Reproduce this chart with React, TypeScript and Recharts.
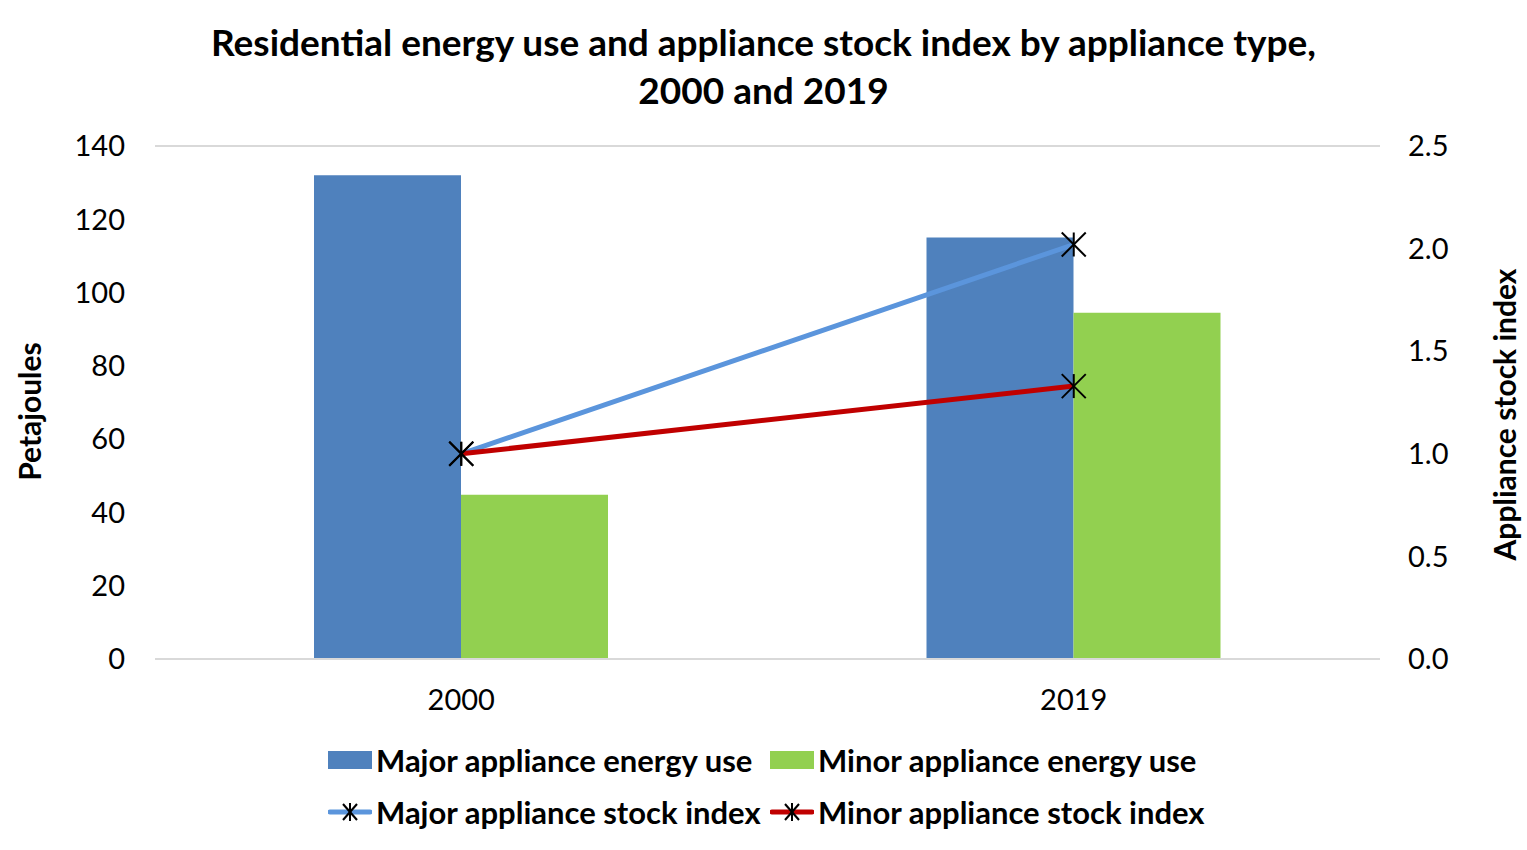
import { Bar, CartesianGrid, ComposedChart, Legend, Line, XAxis, YAxis } from 'recharts';

const years = ['2000', '2019'];
const majorEnergy = [132, 115];
const minorEnergy = [44.8, 94.5];
const majorStock = [1.0, 2.02];
const minorStock = [1.0, 1.33];
const leftTicks = [0, 20, 40, 60, 80, 100, 120, 140];
const rightTicks = [0, 0.5, 1, 1.5, 2, 2.5];

const data = years.map((year, i) => ({
  year,
  majorEnergy: majorEnergy[i],
  minorEnergy: minorEnergy[i],
  majorStock: majorStock[i],
  minorStock: minorStock[i],
}));

const FONT = 'Lato, "Open Sans", sans-serif';
const BLUE_BAR = '#4f81bd';
const GREEN_BAR = '#92d050';
const BLUE_LINE = '#5b95dc';
const RED_LINE = '#c00000';

const Star = (props: any) => {
  const { cx, cy } = props;
  if (cx == null || cy == null) return null;
  const r = 12;
  return (
    <g stroke="#000" strokeWidth={2}>
      <line x1={cx - r} y1={cy - r} x2={cx + r} y2={cy + r} />
      <line x1={cx - r} y1={cy + r} x2={cx + r} y2={cy - r} />
      <line x1={cx} y1={cy - r} x2={cx} y2={cy + r} />
    </g>
  );
};

const LegendIcon = ({ kind, color }: { kind: 'bar' | 'line'; color: string }) =>
  kind === 'bar' ? (
    <svg width={44} height={20} style={{ marginRight: 4, flex: 'none' }}>
      <rect x={0} y={1} width={44} height={18} fill={color} />
    </svg>
  ) : (
    <svg width={44} height={20} style={{ marginRight: 4, flex: 'none' }}>
      <line x1={2} y1={10} x2={42} y2={10} stroke={color} strokeWidth={5} strokeLinecap="round" />
      <g stroke="#000" strokeWidth={2}>
        <line x1={15} y1={2} x2={29} y2={18} />
        <line x1={15} y1={18} x2={29} y2={2} />
        <line x1={22} y1={1} x2={22} y2={19} />
      </g>
    </svg>
  );

const legendRows = [
  [
    { label: 'Major appliance energy use', kind: 'bar' as const, color: BLUE_BAR },
    { label: 'Minor appliance energy use', kind: 'bar' as const, color: GREEN_BAR },
  ],
  [
    { label: 'Major appliance stock index', kind: 'line' as const, color: BLUE_LINE },
    { label: 'Minor appliance stock index', kind: 'line' as const, color: RED_LINE },
  ],
];

const renderLegend = () => (
  <div style={{ fontFamily: FONT, fontWeight: 700, fontSize: 31, color: '#000' }}>
    {legendRows.map((row, r) => (
      <div key={r} style={{ display: 'flex', paddingLeft: 328, height: 52, alignItems: 'center' }}>
        {row.map((item, i) => (
          <div
            key={i}
            style={{ display: 'flex', alignItems: 'center', width: i === 0 ? 442 : 460, whiteSpace: 'nowrap' }}
          >
            <LegendIcon kind={item.kind} color={item.color} />
            <span>{item.label}</span>
          </div>
        ))}
      </div>
    ))}
  </div>
);

export default function App() {
  return (
    <div style={{ position: 'absolute', left: 0, top: 0, width: 1527, height: 850, background: '#fff' }}>
      <div
        style={{
          position: 'absolute',
          left: 0,
          top: 18,
          width: 1527,
          textAlign: 'center',
          fontFamily: FONT,
          fontWeight: 700,
          fontSize: 37,
          lineHeight: '48px',
          color: '#000',
        }}
      >
        Residential energy use and appliance stock index by appliance type,
        <br />
        2000 and 2019
      </div>
      <ComposedChart
        width={1527}
        height={850}
        data={data}
        margin={{ top: 146, right: 0, bottom: 151, left: 0 }}
        barGap={0}
        barSize={147}
      >
        <CartesianGrid vertical={false} stroke="#d9d9d9" strokeWidth={2} />
        <XAxis
          dataKey="year"
          height={40}
          axisLine={{ stroke: '#d9d9d9', strokeWidth: 2 }}
          tickLine={false}
          tickSize={0}
          tickMargin={30}
          tick={{ fontFamily: FONT, fontSize: 29, fill: '#000' }}
        />
        <YAxis
          yAxisId="left"
          width={155}
          domain={[0, 140]}
          ticks={leftTicks}
          axisLine={false}
          tickLine={false}
          tickSize={0}
          tickMargin={30}
          tick={{ fontFamily: FONT, fontSize: 29, fill: '#000' }}
          label={{
            value: 'Petajoules',
            angle: -90,
            position: 'insideLeft',
            offset: 30,
            dy: 9,
            style: { textAnchor: 'middle', fontFamily: FONT, fontWeight: 700, fontSize: 30, fill: '#000' },
          }}
        />
        <YAxis
          yAxisId="right"
          orientation="right"
          width={147}
          domain={[0, 2.5]}
          ticks={rightTicks}
          tickFormatter={(v: number) => v.toFixed(1)}
          axisLine={false}
          tickLine={false}
          tickSize={0}
          tickMargin={28}
          tick={{ fontFamily: FONT, fontSize: 29, fill: '#000', textAnchor: 'start' }}
          label={{
            value: 'Appliance stock index',
            angle: -90,
            position: 'insideRight',
            offset: 22,
            dy: 12,
            style: { textAnchor: 'middle', fontFamily: FONT, fontWeight: 700, fontSize: 30, fill: '#000' },
          }}
        />
        <Bar yAxisId="left" dataKey="majorEnergy" fill={BLUE_BAR} isAnimationActive={false} />
        <Bar yAxisId="left" dataKey="minorEnergy" fill={GREEN_BAR} isAnimationActive={false} />
        <Line
          yAxisId="right"
          dataKey="majorStock"
          stroke={BLUE_LINE}
          strokeWidth={5}
          dot={<Star />}
          activeDot={false}
          isAnimationActive={false}
        />
        <Line
          yAxisId="right"
          dataKey="minorStock"
          stroke={RED_LINE}
          strokeWidth={5}
          dot={<Star />}
          activeDot={false}
          isAnimationActive={false}
        />
        <Legend
          layout="vertical"
          align="center"
          verticalAlign="middle"
          content={renderLegend}
          wrapperStyle={{ position: 'absolute', top: 734, left: 0, width: 1527, height: 110 }}
        />
      </ComposedChart>
    </div>
  );
}
